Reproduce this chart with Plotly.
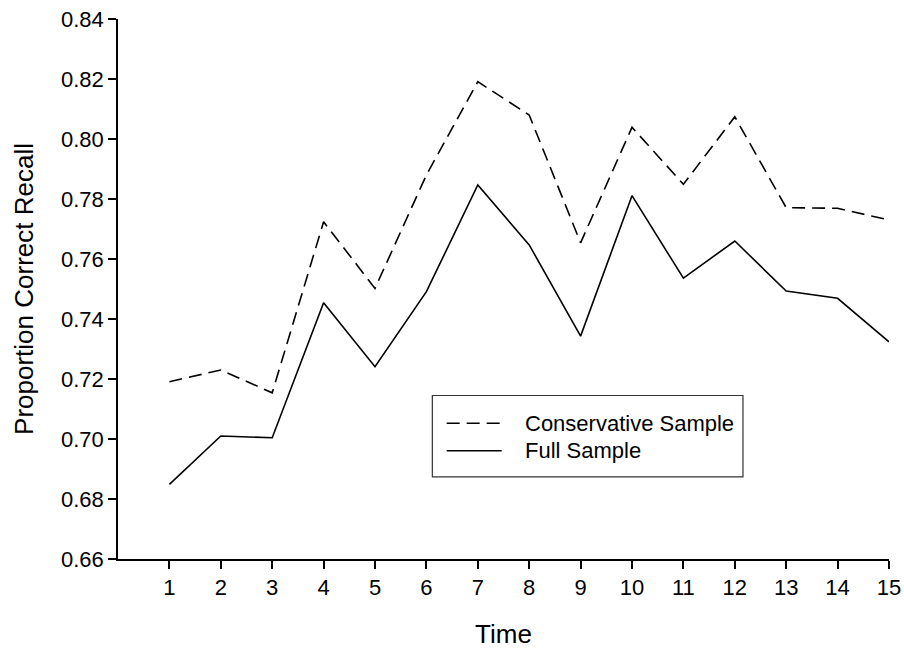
import plotly.graph_objects as go

# Recall proportions by time point
time_points = list(range(1, 16))
conservative = [0.7191, 0.7230, 0.7154, 0.7724, 0.7502, 0.7880, 0.8191, 0.8080,
                0.7654, 0.8039, 0.7849, 0.8074, 0.7771, 0.7769, 0.7730]
full = [0.6849, 0.7010, 0.7004, 0.7454, 0.7241, 0.7491, 0.7847, 0.7647,
        0.7343, 0.7811, 0.7536, 0.7660, 0.7493, 0.7469, 0.7324]
series_names = ["Conservative Sample", "Full Sample"]
y_ticks = [0.66, 0.68, 0.70, 0.72, 0.74, 0.76, 0.78, 0.80, 0.82, 0.84]

FONT = "Arial, Liberation Sans, sans-serif"
DASH = "13px,7px"

fig = go.Figure()
fig.add_trace(go.Scatter(x=time_points, y=conservative, mode="lines",
                         name=series_names[0],
                         line=dict(color="black", width=1.6, dash=DASH)))
fig.add_trace(go.Scatter(x=time_points, y=full, mode="lines",
                         name=series_names[1],
                         line=dict(color="black", width=1.6)))

# Legend box drawn in paper coordinates
fig.add_shape(type="rect", xref="paper", yref="paper",
              x0=0.4077, x1=0.8106, y0=0.1519, y1=0.3028,
              line=dict(color="#333", width=1.2), fillcolor="white", layer="above")
for i, (yy, dash) in enumerate([(0.2513, DASH), (0.2006, "solid")]):
    fig.add_shape(type="line", xref="paper", yref="paper",
                  x0=0.4263, x1=0.4977, y0=yy, y1=yy,
                  line=dict(color="black", width=1.6, dash=dash), layer="above")
    fig.add_annotation(xref="paper", yref="paper", x=0.5257, y=yy,
                       text=series_names[i], showarrow=False,
                       xanchor="left", yanchor="middle",
                       font=dict(family=FONT, size=22, color="black"))

fig.update_layout(
    width=904, height=649,
    margin=dict(l=118, r=15, t=19, b=90),
    paper_bgcolor="white", plot_bgcolor="white",
    showlegend=False,
    font=dict(family=FONT, size=22, color="black"),
)
fig.update_xaxes(
    range=[0, 15], tickvals=time_points, ticktext=[str(t) for t in time_points],
    showgrid=False, zeroline=False, automargin=False,
    showline=True, linecolor="black", linewidth=1.6,
    ticks="outside", ticklen=8, tickwidth=1.6, tickcolor="black",
    tickfont=dict(family=FONT, size=22),
    title=dict(text="Time", font=dict(family=FONT, size=26), standoff=26),
)
fig.update_yaxes(
    range=[0.66, 0.84], tickvals=y_ticks, ticktext=[f"{v:.2f}" for v in y_ticks],
    showgrid=False, zeroline=False, automargin=False,
    showline=True, linecolor="black", linewidth=1.6,
    ticks="outside", ticklen=8, tickwidth=1.6, tickcolor="black",
    tickfont=dict(family=FONT, size=22),
    title=dict(text="Proportion Correct Recall", font=dict(family=FONT, size=26), standoff=20),
)

fig.write_html("out.html")
